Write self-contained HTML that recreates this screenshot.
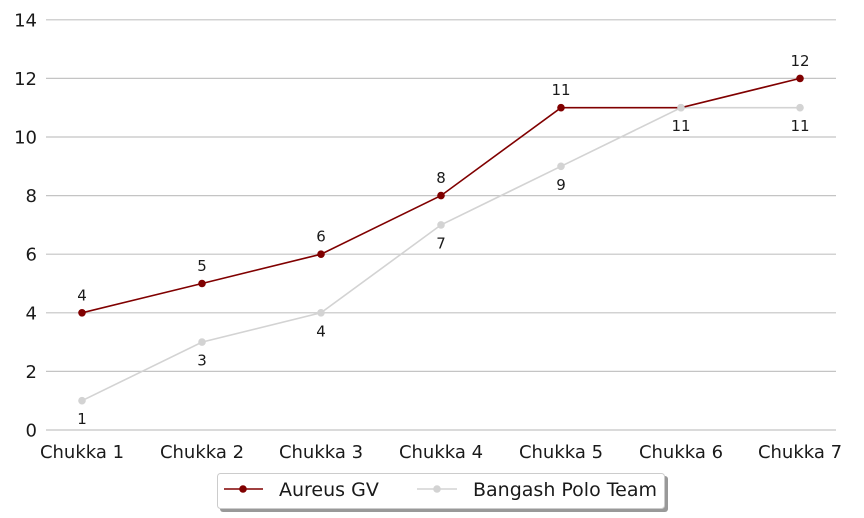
<!DOCTYPE html>
<html><head><meta charset="utf-8"><style>
html,body{margin:0;padding:0;background:#fff;}
svg{display:block;font-family:"DejaVu Sans","Liberation Sans",sans-serif;}
</style></head><body>
<svg width="864" height="518" viewBox="0 0 864 518" xmlns="http://www.w3.org/2000/svg">
<g stroke="#c4c4c4" stroke-width="1.2">
<line x1="46" x2="836" y1="430" y2="430"/>
<line x1="46" x2="836" y1="371.4" y2="371.4"/>
<line x1="46" x2="836" y1="312.8" y2="312.8"/>
<line x1="46" x2="836" y1="254.2" y2="254.2"/>
<line x1="46" x2="836" y1="195.6" y2="195.6"/>
<line x1="46" x2="836" y1="137" y2="137"/>
<line x1="46" x2="836" y1="78.4" y2="78.4"/>
<line x1="46" x2="836" y1="19.8" y2="19.8"/>
</g>
<g font-size="18" fill="#1a1a1a" text-anchor="end">
<text x="37" y="436.5">0</text>
<text x="37" y="377.9">2</text>
<text x="37" y="319.3">4</text>
<text x="37" y="260.7">6</text>
<text x="37" y="202.1">8</text>
<text x="37" y="143.5">10</text>
<text x="37" y="84.9">12</text>
<text x="37" y="26.3">14</text>
</g>
<g font-size="18" fill="#1a1a1a" text-anchor="middle">
<text x="82" y="458">Chukka 1</text>
<text x="202" y="458">Chukka 2</text>
<text x="321" y="458">Chukka 3</text>
<text x="441" y="458">Chukka 4</text>
<text x="561" y="458">Chukka 5</text>
<text x="681" y="458">Chukka 6</text>
<text x="800" y="458">Chukka 7</text>
</g>
<!-- Bangash -->
<polyline fill="none" stroke="#d3d3d3" stroke-width="1.6" points="82,400.7 202,342.1 321,312.8 441,224.9 561,166.3 681,107.7 800,107.7"/>
<g fill="#d3d3d3">
<circle cx="82" cy="400.7" r="3.8"/><circle cx="202" cy="342.1" r="3.8"/><circle cx="321" cy="312.8" r="3.8"/><circle cx="441" cy="224.9" r="3.8"/><circle cx="561" cy="166.3" r="3.8"/><circle cx="681" cy="107.7" r="3.8"/><circle cx="800" cy="107.7" r="3.8"/>
</g>
<!-- Aureus -->
<polyline fill="none" stroke="#800000" stroke-width="1.6" points="82,312.8 202,283.5 321,254.2 441,195.6 561,107.7 681,107.7 800,78.4"/>
<g fill="#800000">
<circle cx="82" cy="312.8" r="3.8"/><circle cx="202" cy="283.5" r="3.8"/><circle cx="321" cy="254.2" r="3.8"/><circle cx="441" cy="195.6" r="3.8"/><circle cx="561" cy="107.7" r="3.8"/><circle cx="800" cy="78.4" r="3.8"/>
</g>
<circle cx="681" cy="107.7" r="3.8" fill="#d3d3d3"/>
<g font-size="15" fill="#1a1a1a" text-anchor="middle">
<text x="82" y="300.3">4</text>
<text x="202" y="271">5</text>
<text x="321" y="241.7">6</text>
<text x="441" y="183.1">8</text>
<text x="561" y="95.2">11</text>
<text x="800" y="65.9">12</text>
<text x="82" y="424.2">1</text>
<text x="202" y="365.6">3</text>
<text x="321" y="336.3">4</text>
<text x="441" y="248.4">7</text>
<text x="561" y="189.8">9</text>
<text x="681" y="131.2">11</text>
<text x="800" y="131.2">11</text>
</g>
<!-- Legend -->
<rect x="220" y="476" width="448" height="36" rx="3" fill="#999"/>
<rect x="217.5" y="473.5" width="447" height="35" rx="3" fill="#fff" stroke="#cccccc" stroke-width="1"/>
<line x1="224" x2="263" y1="489" y2="489" stroke="#800000" stroke-width="1.6"/>
<circle cx="243" cy="489" r="3.8" fill="#800000"/>
<text x="279" y="496" font-size="19" fill="#1a1a1a">Aureus GV</text>
<line x1="417" x2="457" y1="489" y2="489" stroke="#d3d3d3" stroke-width="1.6"/>
<circle cx="437" cy="489" r="3.8" fill="#d3d3d3"/>
<text x="473" y="496" font-size="19" fill="#1a1a1a">Bangash Polo Team</text>
</svg>
</body></html>
